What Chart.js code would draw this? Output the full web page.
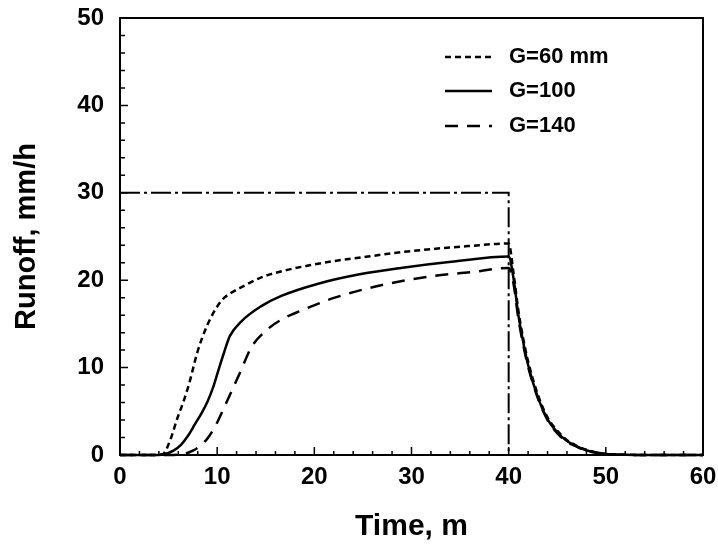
<!DOCTYPE html>
<html>
<head>
<meta charset="utf-8">
<script src="https://cdn.jsdelivr.net/npm/chart.js@4.4.1/dist/chart.umd.min.js"></script>
<style>
	html, body { margin: 0; padding: 0; background: #fff; }
	#wrap { width: 718px; height: 545px; }
</style>
</head>
<body>
<div id="wrap"><canvas id="runoffC" width="718" height="545"></canvas></div>
<script>
// data
const legendLabels = ['G=60 mm', 'G=100', 'G=140'];

const g60Time = [0, 3, 4.4, 5.2, 5.9, 6.5, 7.1, 8.0, 9.0, 10.4, 11.5, 12.5, 14.5, 16.9, 19.5, 22.1, 25.5, 28.9, 32.5, 35.8, 40, 40.5, 41, 41.5, 42, 43, 44, 45, 46, 47, 48, 49, 50, 52, 55, 60];
const g60Runoff = [0, 0, 0.1, 1.8, 4.2, 6.0, 8.1, 11.9, 14.9, 17.6, 18.6, 19.2, 20.3, 21.1, 21.7, 22.2, 22.7, 23.2, 23.6, 23.9, 24.2, 20.8, 16.5, 13.3, 10.7, 6.9, 4.3, 2.8, 1.7, 1.05, 0.6, 0.3, 0.13, 0.03, 0, 0];

const g100Time = [0, 4, 4.6, 5.5, 6.3, 7.0, 7.7, 8.4, 9.0, 9.6, 10.1, 10.7, 11.3, 12.5, 14.5, 16.6, 20.4, 24.8, 28.9, 34.1, 40, 40.5, 41, 41.5, 42, 43, 44, 45, 46, 47, 48, 49, 50, 52, 55, 60];
const g100Runoff = [0, 0, 0.1, 0.5, 1.2, 2.2, 3.5, 4.8, 6.1, 7.8, 9.6, 11.7, 13.6, 15.3, 17.0, 18.2, 19.6, 20.7, 21.4, 22.1, 22.7, 20.2, 16.0, 12.9, 10.3, 6.6, 4.1, 2.6, 1.6, 1.0, 0.55, 0.28, 0.12, 0.03, 0, 0];

const g140Time = [0, 5, 6.5, 7.5, 8.3, 9.0, 9.9, 10.7, 11.4, 12.1, 12.8, 13.5, 15.2, 16.8, 18.6, 22.1, 27.2, 32.4, 36, 40, 40.5, 41, 41.5, 42, 43, 44, 45, 46, 47, 48, 49, 50, 52, 55, 60];
const g140Runoff = [0, 0, 0.1, 0.5, 1.1, 1.9, 3.5, 5.4, 7.1, 8.8, 10.6, 12.3, 14.4, 15.6, 16.5, 18.0, 19.5, 20.5, 20.9, 21.4, 19.6, 15.6, 12.6, 10.1, 6.5, 4.0, 2.5, 1.5, 0.95, 0.5, 0.26, 0.1, 0.02, 0, 0];

// rainfall input (dash-dot)
const rainTime = [0, 40, 40];
const rainRate = [30, 30, 0];

const FONT = '"Liberation Sans", Arial, sans-serif';

function pts(xs, ys) {
	return xs.map((x, i) => ({ x: x, y: ys[i] }));
}

const lineStyle = {
	borderColor: '#000',
	borderWidth: 2.5,
	pointRadius: 0,
	fill: false,
	cubicInterpolationMode: 'monotone',
	clip: false
};

// inward ticks, frame and legend inside the plot
const framePlugin = {
	id: 'frame',
	afterDraw(chart) {
		const ctx = chart.ctx;
		const a = chart.chartArea;
		const xs = chart.scales.x, ys = chart.scales.y;
		ctx.save();
		ctx.strokeStyle = '#000';
		ctx.lineWidth = 2;
		ctx.setLineDash([]);
		ctx.strokeRect(a.left, a.top, a.right - a.left, a.bottom - a.top);
		ctx.lineWidth = 1.5;
		ctx.beginPath();
		for (let v = 0; v <= 60; v += 2) {
			const px = xs.getPixelForValue(v);
			const len = v % 10 === 0 ? 8 : 4;
			ctx.moveTo(px, a.bottom);
			ctx.lineTo(px, a.bottom - len);
		}
		for (let v = 0; v <= 50; v += 2) {
			const py = ys.getPixelForValue(v);
			const len = v % 10 === 0 ? 8 : 5;
			ctx.moveTo(a.left, py);
			ctx.lineTo(a.left + len, py);
		}
		ctx.stroke();
		// legend
		const rows = [57, 91, 126];
		chart.data.datasets.slice(0, 3).forEach((ds, i) => {
			ctx.strokeStyle = '#000';
			ctx.lineWidth = 2.5;
			ctx.setLineDash(ds.borderDash || []);
			ctx.beginPath();
			ctx.moveTo(445, rows[i]);
			ctx.lineTo(492, rows[i]);
			ctx.stroke();
			ctx.setLineDash([]);
			ctx.fillStyle = '#000';
			ctx.font = 'bold 22px ' + FONT;
			ctx.textBaseline = 'middle';
			ctx.textAlign = 'left';
			ctx.fillText(legendLabels[i], 509, rows[i]);
		});
		ctx.restore();
	}
};

new Chart(document.getElementById('runoffC'), {
	type: 'line',
	data: {
		datasets: [
			Object.assign({ label: legendLabels[0], data: pts(g60Time, g60Runoff), borderDash: [6, 4] }, lineStyle),
			Object.assign({ label: legendLabels[1], data: pts(g100Time, g100Runoff) }, lineStyle),
			Object.assign({ label: legendLabels[2], data: pts(g140Time, g140Runoff), borderDash: [13, 9] }, lineStyle),
			{
				label: 'rain',
				data: pts(rainTime, rainRate),
				borderColor: '#000',
				borderWidth: 2,
				borderDash: [20, 4, 3, 4],
				pointRadius: 0,
				fill: false,
				tension: 0
			}
		]
	},
	options: {
		responsive: false,
		animation: false,
		layout: { padding: { top: 18, right: 15, left: 0, bottom: 0 } },
		plugins: {
			legend: { display: false },
			tooltip: { enabled: false }
		},
		scales: {
			x: {
				type: 'linear',
				min: 0,
				max: 60,
				afterFit(scale) {
					scale.height = 90;
					scale.paddingLeft = 0;
					scale.paddingRight = 0;
				},
				grid: { display: false, drawTicks: false },
				border: { display: false },
				ticks: {
					stepSize: 10,
					padding: 8,
					color: '#000',
					font: { family: FONT, size: 24, weight: 'bold' }
				},
				title: {
					display: true,
					text: 'Time, m',
					color: '#000',
					padding: { top: 0, bottom: 0 },
					font: { family: FONT, size: 30, weight: 'bold' }
				}
			},
			y: {
				min: 0,
				max: 50,
				afterFit(scale) {
					scale.width = 120;
					scale.paddingTop = 0;
					scale.paddingBottom = 0;
				},
				grid: { display: false, drawTicks: false },
				border: { display: false },
				ticks: {
					stepSize: 10,
					padding: 16,
					color: '#000',
					font: { family: FONT, size: 24, weight: 'bold' }
				},
				title: {
					display: true,
					text: 'Runoff, mm/h',
					color: '#000',
					padding: { top: 10, bottom: 0 },
					font: { family: FONT, size: 29, weight: 'bold' }
				}
			}
		}
	},
	plugins: [framePlugin]
});
</script>
</body>
</html>
